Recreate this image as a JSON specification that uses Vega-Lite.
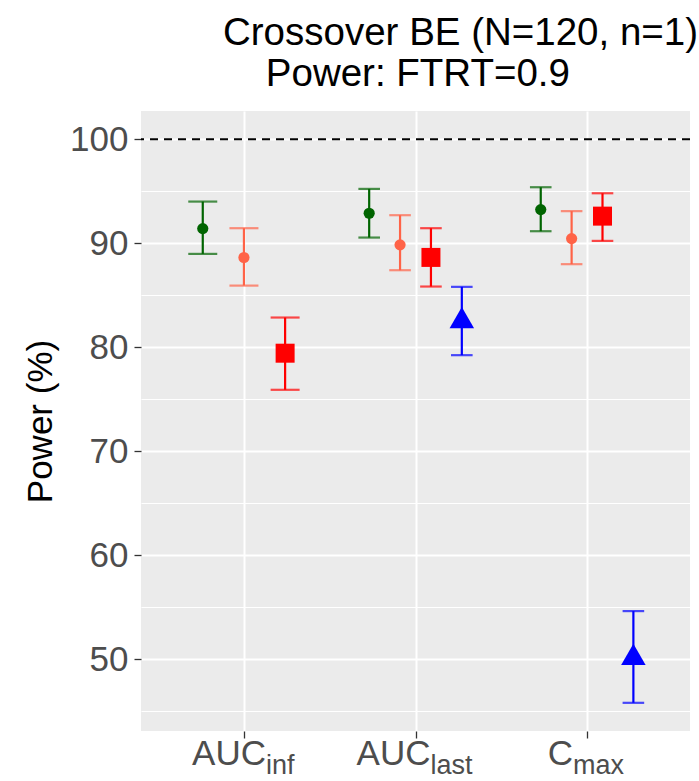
{
  "$schema": "https://vega.github.io/schema/vega-lite/v6.json",
  "width": 549,
  "height": 620,
  "autosize": {"type": "none"},
  "padding": {"left": 141, "top": 111, "right": 9, "bottom": 50},
  "background": "white",
  "title": {
    "text": ["Crossover BE (N=120, n=1)", "\u200b\u00a0\u00a0\u00a0\u00a0Power: FTRT=0.9"],
    "anchor": "start",
    "frame": "group",
    "align": "left",
    "dx": 82,
    "fontSize": 38.5,
    "font": "Liberation Sans",
    "fontWeight": "normal",
    "color": "black",
    "lineHeight": 41,
    "offset": 17
  },
  "config": {
    "view": {"fill": "#EBEBEB", "stroke": null},
    "axis": {"domain": false, "labelFont": "Liberation Sans", "titleFont": "Liberation Sans"}
  },
  "datasets": {
    "power": [
      {"param": "AUCinf", "group": "G1", "power": 91.4, "lower": 88.97, "upper": 94.0},
      {"param": "AUCinf", "group": "G2", "power": 88.62, "lower": 85.92, "upper": 91.44},
      {"param": "AUCinf", "group": "G3", "power": 79.42, "lower": 75.9, "upper": 82.85},
      {"param": "AUClast", "group": "G1", "power": 92.88, "lower": 90.54, "upper": 95.22},
      {"param": "AUClast", "group": "G2", "power": 89.84, "lower": 87.4, "upper": 92.69},
      {"param": "AUClast", "group": "G3", "power": 88.63, "lower": 85.83, "upper": 91.44},
      {"param": "AUClast", "group": "G4", "power": 82.85, "lower": 79.23, "upper": 85.8},
      {"param": "Cmax", "group": "G1", "power": 93.23, "lower": 91.15, "upper": 95.38},
      {"param": "Cmax", "group": "G2", "power": 90.44, "lower": 87.98, "upper": 93.08},
      {"param": "Cmax", "group": "G3", "power": 92.6, "lower": 90.22, "upper": 94.8},
      {"param": "Cmax", "group": "G4", "power": 50.45, "lower": 45.8, "upper": 54.62}
    ],
    "labels": [
      {"param": "AUCinf", "main": "AUC", "sub": "inf"},
      {"param": "AUClast", "main": "AUC", "sub": "last"},
      {"param": "Cmax", "main": "C", "sub": "max"}
    ],
    "ref": [{"line": 100}]
  },
  "layer": [
    {
      "data": {"name": "power"},
      "transform": [
        {"window": [{"op": "row_number", "as": "k"}], "groupby": ["param"], "sort": [{"field": "group"}]},
        {"joinaggregate": [{"op": "count", "as": "n"}], "groupby": ["param"]},
        {"calculate": "indexof(['AUCinf','AUClast','Cmax'], datum.param) + 1 + (datum.k - (datum.n + 1) / 2) * 0.72 / datum.n", "as": "xpos"}
      ],
      "encoding": {
        "x": {
          "field": "xpos", "type": "quantitative", "title": null,
          "scale": {"domain": [0.4, 3.6], "nice": false, "zero": false},
          "axis": {
            "values": [1, 2, 3], "labels": false, "grid": true, "gridColor": "white", "gridWidth": 2,
            "tickColor": "#333333", "tickSize": 7, "tickWidth": 1.3, "domain": false
          }
        },
        "color": {
          "field": "group", "type": "nominal", "legend": null,
          "scale": {"domain": ["G1", "G2", "G3", "G4"], "range": ["#006400", "#FF6347", "#FF0000", "#0000FF"]}
        }
      },
      "layer": [
        {
          "mark": {"type": "rule", "strokeWidth": 2.2},
          "encoding": {
            "y": {
              "field": "lower", "type": "quantitative", "title": "Power (%)",
              "scale": {"domain": [43.09, 102.71], "nice": false, "zero": false},
              "axis": {
                "values": [45, 50, 55, 60, 65, 70, 75, 80, 85, 90, 95, 100],
                "format": "d",
                "labelExpr": "datum.value % 10 === 0 ? datum.label : ''",
                "labelFontSize": 35, "labelColor": "#4D4D4D", "labelPadding": 6,
                "grid": true, "gridColor": "white",
                "gridWidth": {"condition": {"test": "datum.value % 10 === 0", "value": 2}, "value": 1},
                "tickOpacity": {"condition": {"test": "datum.value % 10 === 0", "value": 1}, "value": 0},
                "tickColor": "#333333", "tickSize": 7, "tickWidth": 1.3,
                "titleFontSize": 35, "titleFontWeight": "normal", "titleColor": "black", "titlePadding": 11,
                "domain": false
              }
            },
            "y2": {"field": "upper"}
          }
        },
        {
          "mark": {"type": "tick", "orient": "horizontal", "thickness": 2.2},
          "encoding": {
            "y": {"field": "upper", "type": "quantitative", "title": "Power (%)"},
            "size": {"field": "n", "type": "ordinal", "legend": null, "scale": {"type": "ordinal", "domain": [3, 4], "range": [29, 21.6]}}
          }
        },
        {
          "mark": {"type": "tick", "orient": "horizontal", "thickness": 2.2},
          "encoding": {
            "y": {"field": "lower", "type": "quantitative", "title": "Power (%)"},
            "size": {"field": "n", "type": "ordinal", "legend": null, "scale": {"type": "ordinal", "domain": [3, 4], "range": [29, 21.6]}}
          }
        },
        {
          "transform": [{"filter": "datum.group === 'G1' || datum.group === 'G2'"}],
          "mark": {"type": "point", "shape": "circle", "filled": true, "opacity": 1, "size": 125},
          "encoding": {"y": {"field": "power", "type": "quantitative", "title": "Power (%)"}}
        },
        {
          "transform": [{"filter": "datum.group === 'G3'"}],
          "mark": {"type": "point", "shape": "square", "filled": true, "opacity": 1, "size": 361},
          "encoding": {"y": {"field": "power", "type": "quantitative", "title": "Power (%)"}}
        },
        {
          "transform": [{"filter": "datum.group === 'G4'"}],
          "mark": {"type": "point", "shape": "triangle-up", "filled": true, "opacity": 1, "size": 600},
          "encoding": {"y": {"field": "power", "type": "quantitative", "title": "Power (%)"}}
        }
      ]
    },
    {
      "data": {"name": "ref"},
      "mark": {"type": "rule", "color": "black", "strokeWidth": 2, "strokeDash": [8, 6]},
      "encoding": {"y": {"field": "line", "type": "quantitative", "title": "Power (%)"}}
    },
    {
      "data": {"name": "labels"},
      "transform": [
        {"calculate": "indexof(['AUCinf','AUClast','Cmax'], datum.param) + 1", "as": "xpos"}
      ],
      "encoding": {
        "x": {"field": "xpos", "type": "quantitative", "title": null}
      },
      "layer": [
        {
          "transform": [{"filter": "datum.param === 'AUCinf'"}],
          "mark": {"type": "text", "font": "Liberation Sans", "fontSize": 35, "color": "#4D4D4D", "align": "right", "baseline": "alphabetic", "dx": 22},
          "encoding": {"y": {"datum": 39.8, "type": "quantitative"}, "text": {"field": "main"}}
        },
        {
          "transform": [{"filter": "datum.param === 'AUCinf'"}],
          "mark": {"type": "text", "font": "Liberation Sans", "fontSize": 27, "color": "#4D4D4D", "align": "left", "baseline": "alphabetic", "dx": 22},
          "encoding": {"y": {"datum": 38.95, "type": "quantitative"}, "text": {"field": "sub"}}
        },
        {
          "transform": [{"filter": "datum.param === 'AUClast'"}],
          "mark": {"type": "text", "font": "Liberation Sans", "fontSize": 35, "color": "#4D4D4D", "align": "right", "baseline": "alphabetic", "dx": 15},
          "encoding": {"y": {"datum": 39.8, "type": "quantitative"}, "text": {"field": "main"}}
        },
        {
          "transform": [{"filter": "datum.param === 'AUClast'"}],
          "mark": {"type": "text", "font": "Liberation Sans", "fontSize": 27, "color": "#4D4D4D", "align": "left", "baseline": "alphabetic", "dx": 15},
          "encoding": {"y": {"datum": 38.95, "type": "quantitative"}, "text": {"field": "sub"}}
        },
        {
          "transform": [{"filter": "datum.param === 'Cmax'"}],
          "mark": {"type": "text", "font": "Liberation Sans", "fontSize": 35, "color": "#4D4D4D", "align": "right", "baseline": "alphabetic", "dx": -14},
          "encoding": {"y": {"datum": 39.8, "type": "quantitative"}, "text": {"field": "main"}}
        },
        {
          "transform": [{"filter": "datum.param === 'Cmax'"}],
          "mark": {"type": "text", "font": "Liberation Sans", "fontSize": 27, "color": "#4D4D4D", "align": "left", "baseline": "alphabetic", "dx": -14},
          "encoding": {"y": {"datum": 38.95, "type": "quantitative"}, "text": {"field": "sub"}}
        }
      ]
    }
  ]
}
